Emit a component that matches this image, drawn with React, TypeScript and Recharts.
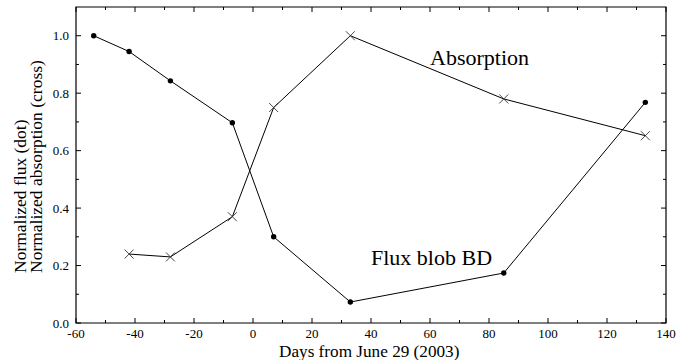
import React from 'react';
import { LineChart, Line, XAxis, YAxis, ReferenceArea } from 'recharts';

const fluxDays = [-54, -42, -28, -7, 7, 33, 85, 133];
const fluxValues = [1.0, 0.945, 0.843, 0.697, 0.3, 0.073, 0.174, 0.768];
const absDays = [-42, -28, -7, 7, 33, 85, 133];
const absValues = [0.24, 0.23, 0.37, 0.75, 1.0, 0.78, 0.652];

const xTicks = [-60, -50, -40, -30, -20, -10, 0, 10, 20, 30, 40, 50, 60, 70, 80, 90, 100, 110, 120, 130, 140];
const yTicks = [0, 0.1, 0.2, 0.3, 0.4, 0.5, 0.6, 0.7, 0.8, 0.9, 1.0];

const fluxData = fluxDays.map((d, i) => ({ day: d, value: fluxValues[i] }));
const absData = absDays.map((d, i) => ({ day: d, value: absValues[i] }));

const FONT = "'Liberation Serif', 'Times New Roman', Times, serif";
const TOP = 7;
const BOTTOM = 323;
const LEFT = 76;
const RIGHT = 666;

const XTick = (props: any) => {
  const { x, payload } = props;
  const v = payload.value;
  const major = v % 20 === 0;
  const len = major ? 5 : 3;
  return (
    <g>
      <line x1={x} y1={BOTTOM} x2={x} y2={BOTTOM - len} stroke="#000" />
      <line x1={x} y1={TOP} x2={x} y2={TOP + len} stroke="#000" />
      {major && (
        <text x={x} y={338} textAnchor="middle" fontSize={13} style={{ fontFamily: FONT }} fill="#000">
          {v}
        </text>
      )}
    </g>
  );
};

const YTick = (props: any) => {
  const { y, payload } = props;
  const v = payload.value;
  const major = Math.round(v * 10) % 2 === 0;
  const len = major ? 5 : 3;
  return (
    <g>
      <line x1={LEFT} y1={y} x2={LEFT + len} y2={y} stroke="#000" />
      <line x1={RIGHT} y1={y} x2={RIGHT - len} y2={y} stroke="#000" />
      {major && (
        <text x={69} y={y + 4.5} textAnchor="end" fontSize={13} style={{ fontFamily: FONT }} fill="#000">
          {v.toFixed(1)}
        </text>
      )}
    </g>
  );
};

const Cross = (props: any) => {
  const { cx, cy } = props;
  if (cx == null || cy == null) return null;
  const s = 4.5;
  return (
    <g>
      <line x1={cx - s} y1={cy - s} x2={cx + s} y2={cy + s} stroke="#333" strokeWidth={0.9} />
      <line x1={cx - s} y1={cy + s} x2={cx + s} y2={cy - s} stroke="#333" strokeWidth={0.9} />
    </g>
  );
};

const App = () => (
  <div style={{ position: 'absolute', left: 0, top: 0, width: 685, height: 360, background: '#fff' }}>
    <LineChart width={685} height={360} margin={{ top: TOP, right: 685 - RIGHT, bottom: 0, left: 0 }}>
      <XAxis
        dataKey="day"
        type="number"
        domain={[-60, 140]}
        ticks={xTicks}
        interval={0}
        height={360 - BOTTOM}
        axisLine={false}
        tickLine={false}
        tick={<XTick />}
      />
      <YAxis
        dataKey="value"
        type="number"
        domain={[0, 1.1]}
        ticks={yTicks}
        interval={0}
        width={LEFT}
        axisLine={false}
        tickLine={false}
        tick={<YTick />}
      />
      <ReferenceArea x1={-60} x2={140} y1={0} y2={1.1} fill="none" stroke="#000" strokeWidth={1.2} />
      <Line
        data={fluxData}
        dataKey="value"
        stroke="#000"
        strokeWidth={1}
        dot={{ r: 2.7, fill: '#000', stroke: '#000', strokeWidth: 0 }}
        isAnimationActive={false}
      />
      <Line
        data={absData}
        dataKey="value"
        stroke="#000"
        strokeWidth={1}
        dot={<Cross />}
        isAnimationActive={false}
      />
    </LineChart>
    <svg width={685} height={360} style={{ position: 'absolute', left: 0, top: 0, pointerEvents: 'none', fontFamily: FONT }}>
      <text x={430} y={65} fontSize={22} fill="#000">Absorption</text>
      <text x={371} y={265} fontSize={22} fill="#000">Flux blob BD</text>
      <text x={279} y={356.5} fontSize={17.2} fill="#000">
        Days from June 29 (2003)
      </text>
      <text transform="translate(26,273) rotate(-90)" fontSize={17.5} fill="#000">
        Normalized flux (dot)
      </text>
      <text transform="translate(42,273) rotate(-90)" fontSize={17.5} fill="#000">
        Normalized absorption (cross)
      </text>
    </svg>
  </div>
);

export default App;
